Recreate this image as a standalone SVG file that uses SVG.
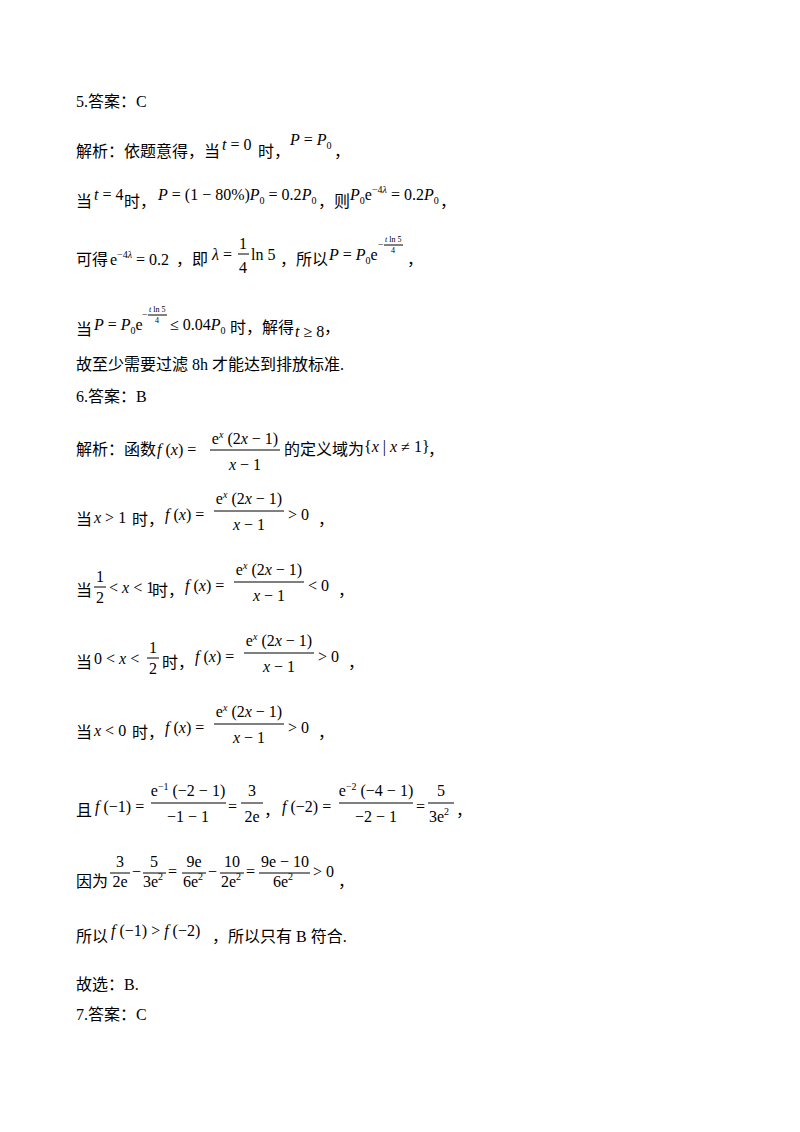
<svg xmlns="http://www.w3.org/2000/svg" width="800" height="1132" viewBox="0 0 800 1132">
<style>
text{font-family:"Liberation Serif","Noto Sans CJK SC",serif;font-size:16px;fill:#000}
.i{font-style:italic}
.s{font-size:10px}
.xs{font-size:8px}
line{stroke:#000;stroke-width:1}
</style>
<rect width="800" height="1132" fill="#fff"/>
<text x="76" y="107">5.答案：C</text>
<text x="76" y="157">解析：依题意得，当</text>
<text x="222" y="150"><tspan class="i">t</tspan> = 0</text>
<text x="258" y="157">时，</text>
<text x="290" y="145"><tspan class="i">P</tspan> = <tspan class="i">P</tspan><tspan class="s" dy="4">0</tspan></text>
<text x="334" y="157">，</text>

<text x="76" y="207">当</text>
<text x="94" y="200"><tspan class="i">t</tspan> = 4</text>
<text x="124" y="207">时，</text>
<text x="158" y="200"><tspan class="i">P</tspan> = (1 − 80%)<tspan class="i">P</tspan><tspan class="s" dy="4">0</tspan><tspan dy="-4"> = 0.2</tspan><tspan class="i">P</tspan><tspan class="s" dy="4">0</tspan></text>
<text x="318" y="207">，则</text>
<text x="350" y="200"><tspan class="i">P</tspan><tspan class="s" dy="4">0</tspan><tspan dy="-4">e</tspan><tspan class="s" dy="-7">−4<tspan class="i">λ</tspan></tspan><tspan dy="7"> = 0.2</tspan><tspan class="i">P</tspan><tspan class="s" dy="4">0</tspan></text>
<text x="440" y="207">，</text>

<text x="76" y="265">可得</text>
<text x="110" y="265">e<tspan class="s" dy="-7">−4<tspan class="i">λ</tspan></tspan><tspan dy="7"> = 0.2</tspan></text>
<text x="176" y="265">，即</text>
<text x="212" y="260"><tspan class="i">λ</tspan> =</text>
<text x="239" y="249">1</text><line x1="238" y1="254" x2="249" y2="254"/><text x="239" y="273">4</text>
<text x="251" y="260">ln 5</text>
<text x="280" y="265">，所以</text>
<text x="329" y="260"><tspan class="i">P</tspan> = <tspan class="i">P</tspan><tspan class="s" dy="4">0</tspan><tspan dy="-4">e</tspan></text>
<text x="378" y="248" class="s">−</text>
<text x="385" y="242" class="xs"><tspan class="i">t</tspan> ln 5</text><line x1="384" y1="245" x2="403" y2="245" stroke-width="0.6"/><text x="391" y="253" class="xs">4</text>
<text x="407" y="265">，</text>

<text x="76" y="335">当</text>
<text x="94" y="330"><tspan class="i">P</tspan> = <tspan class="i">P</tspan><tspan class="s" dy="4">0</tspan><tspan dy="-4">e</tspan></text>
<text x="142" y="318" class="s">−</text>
<text x="149" y="312" class="xs"><tspan class="i">t</tspan> ln 5</text><line x1="148" y1="315" x2="167" y2="315" stroke-width="0.6"/><text x="155" y="323" class="xs">4</text>
<text x="170" y="330">≤ 0.04<tspan class="i">P</tspan><tspan class="s" dy="4">0</tspan></text>
<text x="230" y="333">时，解得</text>
<text x="295" y="337"><tspan class="i">t</tspan> ≥ 8</text>
<text x="324" y="333">，</text>

<text x="76" y="370">故至少需要过滤 8h 才能达到排放标准.</text>
<text x="76" y="402">6.答案：B</text>

<text x="76" y="455">解析：函数</text>
<text x="157" y="455"><tspan class="i">f</tspan> (<tspan class="i">x</tspan>) =</text>
<text x="245" y="444" text-anchor="middle">e<tspan class="s" dy="-6" font-style="italic">x</tspan><tspan dy="6"> (2</tspan><tspan class="i">x</tspan> − 1)</text>
<line x1="210" y1="450" x2="280" y2="450"/>
<text x="245" y="470" text-anchor="middle"><tspan class="i">x</tspan> − 1</text>
<text x="284" y="455">的定义域为</text>
<text x="364" y="452">{<tspan class="i">x</tspan> | <tspan class="i">x</tspan> ≠ 1}</text>
<text x="428" y="455">，</text>

<g id="c1">
<text x="76" y="525">当</text>
<text x="94" y="523"><tspan class="i">x</tspan> &gt; 1</text>
<text x="132" y="525">时，</text>
<text x="165" y="520"><tspan class="i">f</tspan> (<tspan class="i">x</tspan>) =</text>
<text x="249" y="504" text-anchor="middle">e<tspan class="s" dy="-6" font-style="italic">x</tspan><tspan dy="6"> (2</tspan><tspan class="i">x</tspan> − 1)</text>
<line x1="214" y1="511" x2="284" y2="511"/>
<text x="249" y="530" text-anchor="middle"><tspan class="i">x</tspan> − 1</text>
<text x="288" y="520">&gt; 0</text>
<text x="318" y="525">，</text>
</g>

<g id="c2">
<text x="76" y="596">当</text>
<text x="96" y="582">1</text><line x1="94" y1="587" x2="106" y2="587"/><text x="96" y="603">2</text>
<text x="109" y="593">&lt; <tspan class="i">x</tspan> &lt; 1</text>
<text x="152" y="596">时，</text>
<text x="185" y="591"><tspan class="i">f</tspan> (<tspan class="i">x</tspan>) =</text>
<text x="269" y="575" text-anchor="middle">e<tspan class="s" dy="-6" font-style="italic">x</tspan><tspan dy="6"> (2</tspan><tspan class="i">x</tspan> − 1)</text>
<line x1="234" y1="582" x2="304" y2="582"/>
<text x="269" y="601" text-anchor="middle"><tspan class="i">x</tspan> − 1</text>
<text x="308" y="591">&lt; 0</text>
<text x="338" y="596">，</text>
</g>

<g id="c3">
<text x="76" y="668">当</text>
<text x="94" y="664">0 &lt; <tspan class="i">x</tspan> &lt;</text>
<text x="149" y="653">1</text><line x1="147" y1="658" x2="159" y2="658"/><text x="149" y="674">2</text>
<text x="162" y="668">时，</text>
<text x="195" y="662"><tspan class="i">f</tspan> (<tspan class="i">x</tspan>) =</text>
<text x="279" y="646" text-anchor="middle">e<tspan class="s" dy="-6" font-style="italic">x</tspan><tspan dy="6"> (2</tspan><tspan class="i">x</tspan> − 1)</text>
<line x1="244" y1="653" x2="314" y2="653"/>
<text x="279" y="672" text-anchor="middle"><tspan class="i">x</tspan> − 1</text>
<text x="318" y="662">&gt; 0</text>
<text x="348" y="668">，</text>
</g>

<g id="c4">
<text x="76" y="738">当</text>
<text x="94" y="736"><tspan class="i">x</tspan> &lt; 0</text>
<text x="132" y="738">时，</text>
<text x="165" y="733"><tspan class="i">f</tspan> (<tspan class="i">x</tspan>) =</text>
<text x="249" y="717" text-anchor="middle">e<tspan class="s" dy="-6" font-style="italic">x</tspan><tspan dy="6"> (2</tspan><tspan class="i">x</tspan> − 1)</text>
<line x1="214" y1="724" x2="284" y2="724"/>
<text x="249" y="743" text-anchor="middle"><tspan class="i">x</tspan> − 1</text>
<text x="288" y="733">&gt; 0</text>
<text x="318" y="738">，</text>
</g>

<g id="c5">
<text x="76" y="816">且</text>
<text x="95" y="812"><tspan class="i">f</tspan> (−1) =</text>
<text x="188" y="796" text-anchor="middle">e<tspan class="s" dy="-6">−1</tspan><tspan dy="6"> (−2 − 1)</tspan></text>
<line x1="151" y1="803" x2="226" y2="803"/>
<text x="188" y="822" text-anchor="middle">−1 − 1</text>
<text x="228" y="812">=</text>
<text x="252" y="796" text-anchor="middle">3</text><line x1="241" y1="803" x2="263" y2="803"/><text x="252" y="822" text-anchor="middle">2e</text>
<text x="264" y="816">，</text>
<text x="282" y="812"><tspan class="i">f</tspan> (−2) =</text>
<text x="376" y="796" text-anchor="middle">e<tspan class="s" dy="-6">−2</tspan><tspan dy="6"> (−4 − 1)</tspan></text>
<line x1="339" y1="803" x2="413" y2="803"/>
<text x="376" y="822" text-anchor="middle">−2 − 1</text>
<text x="416" y="812">=</text>
<text x="441" y="796" text-anchor="middle">5</text><line x1="428" y1="803" x2="454" y2="803"/><text x="439" y="822" text-anchor="middle">3e<tspan class="s" dy="-7">2</tspan></text>
<text x="456" y="816">，</text>
</g>

<g id="c6">
<text x="76" y="887">因为</text>
<text x="120" y="867" text-anchor="middle">3</text><line x1="110" y1="873" x2="130" y2="873"/><text x="120" y="887" text-anchor="middle">2e</text>
<text x="132" y="877">−</text>
<text x="154" y="867" text-anchor="middle">5</text><line x1="143" y1="873" x2="166" y2="873"/><text x="153" y="887" text-anchor="middle">3e<tspan class="s" dy="-7">2</tspan></text>
<text x="168" y="877">=</text>
<text x="194" y="867" text-anchor="middle">9e</text><line x1="182" y1="873" x2="206" y2="873"/><text x="193" y="887" text-anchor="middle">6e<tspan class="s" dy="-7">2</tspan></text>
<text x="208" y="877">−</text>
<text x="232" y="867" text-anchor="middle">10</text><line x1="220" y1="873" x2="244" y2="873"/><text x="231" y="887" text-anchor="middle">2e<tspan class="s" dy="-7">2</tspan></text>
<text x="246" y="877">=</text>
<text x="285" y="867" text-anchor="middle">9e − 10</text><line x1="259" y1="873" x2="310" y2="873"/><text x="283" y="887" text-anchor="middle">6e<tspan class="s" dy="-7">2</tspan></text>
<text x="313" y="877">&gt; 0</text>
<text x="338" y="887">，</text>
</g>

<text x="76" y="942">所以</text>
<text x="111" y="936"><tspan class="i">f</tspan> (−1) &gt; <tspan class="i">f</tspan> (−2)</text>
<text x="212" y="942">，所以只有 B 符合.</text>
<text x="76" y="990">故选：B.</text>
<text x="76" y="1020">7.答案：C</text>
</svg>
